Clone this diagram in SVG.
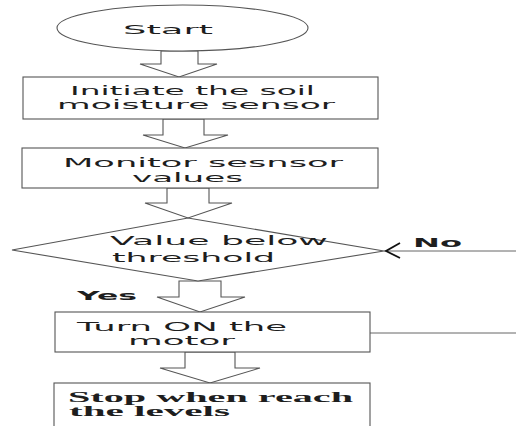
<svg xmlns="http://www.w3.org/2000/svg" width="516" height="426" viewBox="0 0 516 426">
<style>
.sh{fill:#fff;stroke:#555;stroke-width:1.1}
.ar{fill:#fff;stroke:#555;stroke-width:1.1}
.t{font-family:"DejaVu Sans","Verdana",sans-serif;font-size:12px;fill:#1e1e1e}
.b{font-family:"DejaVu Sans","Verdana",sans-serif;font-size:11.5px;font-weight:bold;fill:#1e1e1e}
.s{font-family:"Liberation Serif","Times New Roman",serif;font-size:14px;font-weight:bold;fill:#1e1e1e}
.ln{fill:none;stroke:#666;stroke-width:1}
</style>
<rect width="516" height="426" fill="#fff"/>
<g id="connectors">
<polygon class="ar" points="161,51 161,64 140,64 179,77 217,64 198,64 198,51"/>
<polygon class="ar" points="163,119 163,135 143,135 185,148 228,135 204,135 204,119"/>
<polygon class="ar" points="167,188 167,203 145,203 188,218 232,203 209,203 209,188"/>
<polygon class="ar" points="179,281 179,297 157,297 200,312 245,297 221,297 221,281"/>
<polygon class="ar" points="185,352 185,368 160,368 210,383 260,368 235,368 235,352"/>
<line class="ln" x1="384" y1="251" x2="516" y2="251"/>
<polyline fill="none" stroke="#111" stroke-width="1.8" points="400,243 386,251 400,258"/>
<line class="ln" x1="370" y1="333" x2="516" y2="333"/>
<text class="b" x="413" y="247" textLength="49" lengthAdjust="spacingAndGlyphs">No</text>
<text class="b" x="77" y="300" textLength="60" lengthAdjust="spacingAndGlyphs">Yes</text>
</g>
<g id="start">
<ellipse class="sh" cx="182.5" cy="28" rx="125.5" ry="23"/>
<text class="t" x="123" y="34" font-size="15" textLength="90" lengthAdjust="spacingAndGlyphs">Start</text>
</g>
<g id="init">
<rect class="sh" x="23" y="77" width="355" height="42"/>
<text class="t" x="70" y="95" textLength="245" lengthAdjust="spacingAndGlyphs">Initiate the soil</text>
<text class="t" x="57" y="109" textLength="278" lengthAdjust="spacingAndGlyphs">moisture sensor</text>
</g>
<g id="monitor">
<rect class="sh" x="22" y="148" width="356" height="40"/>
<text class="t" x="63" y="167" textLength="280" lengthAdjust="spacingAndGlyphs">Monitor sesnsor</text>
<text class="t" x="132" y="182" textLength="111" lengthAdjust="spacingAndGlyphs">values</text>
</g>
<g id="decision">
<polygon class="sh" points="188,218 384,251 198,281 12,250"/>
<text class="t" x="110" y="245" textLength="218" lengthAdjust="spacingAndGlyphs">Value below</text>
<text class="t" x="112" y="262" textLength="163" lengthAdjust="spacingAndGlyphs">threshold</text>
</g>
<g id="motor">
<rect class="sh" x="55" y="312" width="315" height="40"/>
<text class="t" x="77" y="331" textLength="210" lengthAdjust="spacingAndGlyphs">Turn ON the</text>
<text class="t" x="128" y="345" textLength="107" lengthAdjust="spacingAndGlyphs">motor</text>
</g>
<g id="stop">
<rect class="sh" x="54" y="383" width="316" height="50"/>
<text class="s" x="68" y="402" textLength="285" lengthAdjust="spacingAndGlyphs">Stop when reach</text>
<text class="s" x="69" y="416" textLength="161" lengthAdjust="spacingAndGlyphs">the levels</text>
</g>
</svg>
